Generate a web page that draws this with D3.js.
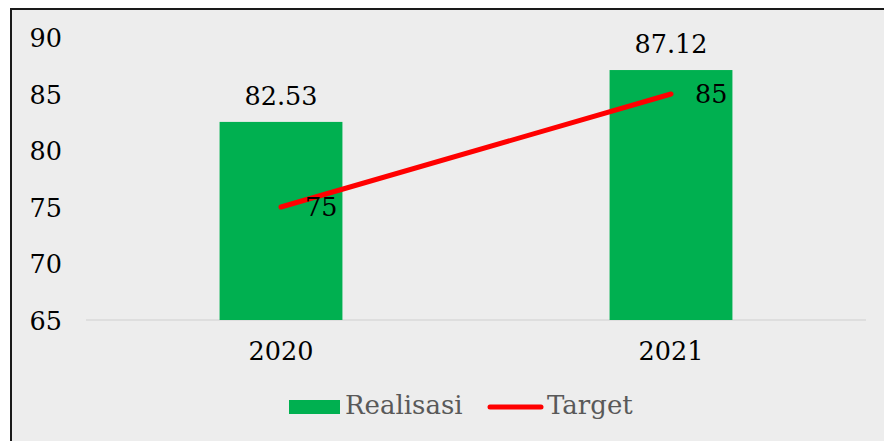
<!DOCTYPE html>
<html><head><meta charset="utf-8">
<script src="https://cdn.jsdelivr.net/npm/d3@7"></script>
<style>html,body{margin:0;padding:0;background:#fff;}svg{display:block;}</style>
</head><body>
<svg id="chart" width="884" height="441"></svg>
<script>
const categories = ["2020", "2021"];
const realisasi = [82.53, 87.12];
const target = [75, 85];
const yTicks = [65, 70, 75, 80, 85, 90];
const seriesNames = ["Realisasi", "Target"];

const W = 884, H = 441;
const svg = d3.select("#chart");
const font = "DejaVu Serif";
const fs = 25.5;

// frame
svg.append("rect").attr("x", 11).attr("y", 9).attr("width", 900).attr("height", 460)
  .attr("fill", "#EDEDED").attr("stroke", "#1a1a1a").attr("stroke-width", 2);

const x = d3.scaleBand().domain(categories).range([86, 866]).paddingInner(0).paddingOuter(0);
const y = d3.scaleLinear().domain([65, 90]).range([320, 37.5]);
const barW = x.bandwidth() * 0.315;

// gridline (baseline)
svg.append("line").attr("x1", 86).attr("x2", 866).attr("y1", y(65)).attr("y2", y(65))
  .attr("stroke", "#D9D9D9").attr("stroke-width", 1.5);

// y axis labels
const yAxis = d3.axisLeft(y).tickValues(yTicks).tickSize(0).tickPadding(0);
const yg = svg.append("g").attr("transform", "translate(62,0)").call(yAxis);
yg.select(".domain").remove();
yg.selectAll("text").attr("font-family", font).attr("font-size", fs).attr("fill", "#000")
  .attr("dy", "0.36em");

// x axis labels
const xAxis = d3.axisBottom(x).tickSize(0).tickPadding(0);
const xg = svg.append("g").attr("transform", "translate(0,341)").call(xAxis);
xg.select(".domain").remove();
xg.selectAll("text").attr("font-family", font).attr("font-size", fs).attr("fill", "#000")
  .attr("dy", "0.76em");

// bars
svg.selectAll("rect.bar").data(categories).enter().append("rect").attr("class", "bar")
  .attr("x", d => x(d) + x.bandwidth() / 2 - barW / 2)
  .attr("width", barW)
  .attr("y", (d, i) => y(realisasi[i]))
  .attr("height", (d, i) => y(65) - y(realisasi[i]))
  .attr("fill", "#00B050");

// bar labels
svg.selectAll("text.blabel").data(categories).enter().append("text").attr("class", "blabel")
  .attr("x", d => x(d) + x.bandwidth() / 2)
  .attr("y", (d, i) => y(realisasi[i]) - 17)
  .attr("text-anchor", "middle")
  .attr("font-family", font).attr("font-size", fs).attr("fill", "#000")
  .text((d, i) => realisasi[i].toFixed(2));

// target line
const line = d3.line().x((d, i) => x(categories[i]) + x.bandwidth() / 2).y(d => y(d));
svg.append("path").datum(target).attr("d", line)
  .attr("fill", "none").attr("stroke", "#FF0000").attr("stroke-width", 5)
  .attr("stroke-linecap", "round");

svg.selectAll("text.tlabel").data(categories).enter().append("text").attr("class", "tlabel")
  .attr("x", d => x(d) + x.bandwidth() / 2 + 24)
  .attr("y", (d, i) => y(target[i]))
  .attr("dy", "0.36em")
  .attr("font-family", font).attr("font-size", fs).attr("fill", "#000")
  .text((d, i) => target[i]);

// legend
const lg = svg.append("g");
lg.append("rect").attr("x", 289).attr("y", 400).attr("width", 51).attr("height", 14).attr("fill", "#00B050");
lg.append("text").attr("x", 345).attr("y", 414).attr("font-family", font).attr("font-size", 26)
  .attr("fill", "#595959").text(seriesNames[0]);
lg.append("line").attr("x1", 490).attr("x2", 541).attr("y1", 407).attr("y2", 407)
  .attr("stroke", "#FF0000").attr("stroke-width", 5).attr("stroke-linecap", "round");
lg.append("text").attr("x", 547).attr("y", 414).attr("font-family", font).attr("font-size", 26)
  .attr("fill", "#595959").text(seriesNames[1]);
</script>
</body></html>
